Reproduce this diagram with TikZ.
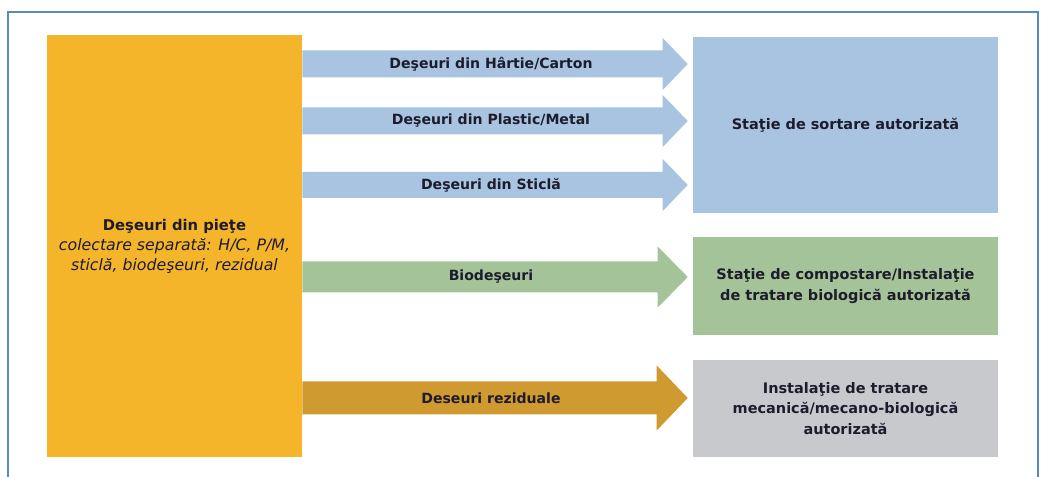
\documentclass[tikz,border=0pt]{standalone}
\usepackage{fontspec}
\setmainfont{DejaVu Sans}
\usetikzlibrary{calc}

\definecolor{portocaliu}{HTML}{F5B52B}
\definecolor{albastru}{HTML}{A8C4E0}
\definecolor{verde}{HTML}{A5C398}
\definecolor{rezidual}{HTML}{CF9A30}
\definecolor{gri}{HTML}{C8C9CD}
\definecolor{chenar}{HTML}{5A8CB9}
\definecolor{textinchis}{HTML}{1E1B2C}

\newcommand{\px}{0.025cm}

\begin{document}
\begin{tikzpicture}[x=\px, y=-\px,
  cutie/.style={inner sep=0pt, align=center, text=textinchis},
  eticheta/.style={text=textinchis, font=\bfseries\fontsize{10}{12}\selectfont}]
  \useasboundingbox (0,0) rectangle (1042,477);

  % Chenar exterior
  \draw[chenar, line width=1pt] (8,12) rectangle (1038,520);

  % Sursa: deseuri din piete
  \node[cutie, fill=portocaliu, minimum width=255*\px, minimum height=422*\px,
    font=\fontsize{10.5}{14.2}\selectfont] (piete) at (174.5,246)
    {\textbf{Deşeuri din pieţe}\\
     {\fontsize{11.2}{14.2}\selectfont\itshape colectare separată: H/C, P/M,}\\
     {\fontsize{11.2}{14.2}\selectfont\itshape sticlă, biodeşeuri, rezidual}};

  % Destinatii
  \node[cutie, fill=albastru, minimum width=305*\px, minimum height=176*\px,
    font=\bfseries\fontsize{10.3}{14.8}\selectfont] (sortare) at (845.5,125)
    {Staţie de sortare autorizată};
  \node[cutie, fill=verde, minimum width=305*\px, minimum height=98*\px,
    font=\bfseries\fontsize{10.3}{14.8}\selectfont] (compost) at (845.5,286)
    {Staţie de compostare/Instalaţie\\de tratare biologică autorizată};
  \node[cutie, fill=gri, minimum width=305*\px, minimum height=97*\px,
    font=\bfseries\fontsize{10.3}{14.6}\selectfont] (tmb) at (845.5,408.5)
    {Instalaţie de tratare\\mecanică/mecano-biologică\\autorizată};

  % Sageti (y, jumatate tija, jumatate varf, lungime varf)
  \foreach \y/\h/\k/\l/\cul/\txt/\dest/\n in {
      64/13.5/26/25/albastru/{Deşeuri din Hârtie/Carton}/sortare/hc,
      121/13.5/26/25/albastru/{Deşeuri din Plastic/Metal}/sortare/pm,
      185/13/26/25/albastru/{Deşeuri din Sticlă}/sortare/st,
      277/15.5/30.5/30/verde/{Biodeşeuri}/compost/bio,
      398/16.5/32.5/31/rezidual/{Deseuri reziduale}/tmb/rez} {
    \coordinate (c\n) at (piete.east |- 0,\y);
    \coordinate (v\n) at ($(\dest.west |- 0,\y)+(-5,0)$);
    \fill[\cul] ($(c\n)+(0,-\h)$) -- ($(v\n)+(-\l,-\h)$) -- ($(v\n)+(-\l,-\k)$)
      -- (v\n) -- ($(v\n)+(-\l,\k)$) -- ($(v\n)+(-\l,\h)$) -- ($(c\n)+(0,\h)$) -- cycle;
    \node[eticheta] (e\n) at ($(c\n)!0.5!(v\n)+(-4,0)$) {\txt};
  }
\end{tikzpicture}
\end{document}
